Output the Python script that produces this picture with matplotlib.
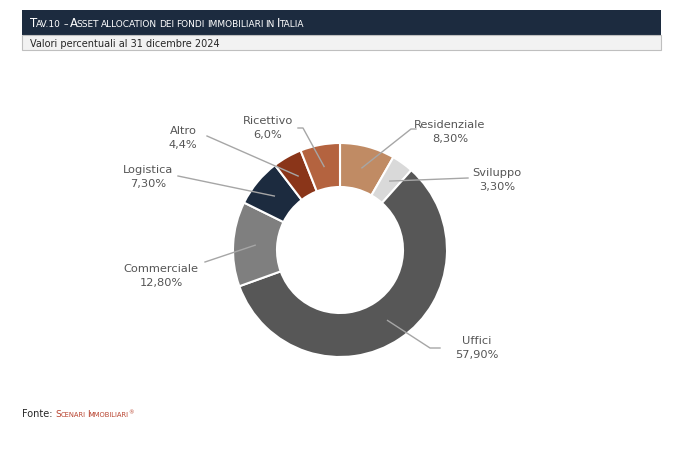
import matplotlib
matplotlib.use("Agg")
import matplotlib.pyplot as plt
from matplotlib.patches import Rectangle
import numpy as np

categories = ["Residenziale", "Sviluppo", "Uffici", "Commerciale", "Logistica", "Altro", "Ricettivo"]
values = [8.3, 3.3, 57.9, 12.8, 7.3, 4.4, 6.0]
value_labels = ["8,30%", "3,30%", "57,90%", "12,80%", "7,30%", "4,4%", "6,0%"]
colors = ["#C08B64", "#D9D9D9", "#575757", "#7F7F7F", "#1C2B3F", "#8A3519", "#B4633F"]

W, H = 696, 454
fig = plt.figure(figsize=(W / 100, H / 100), dpi=100)
ax = fig.add_axes([0, 0, 1, 1])
plt.rcParams['font.family'] = ['DejaVu Sans']

cx, cy, R = 340, H - 250, 107
wedges, _ = ax.pie(values, colors=colors, startangle=90, counterclock=False,
                   center=(cx, cy), radius=R,
                   wedgeprops=dict(width=44, edgecolor="white", linewidth=1.5))
ax.set_xlim(0, W)
ax.set_ylim(0, H)
ax.set_aspect("equal")
ax.axis("off")

# header
ax.add_patch(Rectangle((22, H - 35), 639, 25, facecolor="#1C2B3F", edgecolor="none"))
ax.add_patch(Rectangle((22, H - 50), 639, 15, facecolor="#F2F2F2", edgecolor="#BFBFBF", linewidth=0.8))

fig.canvas.draw()
renderer = fig.canvas.get_renderer()

def runs(x, y, parts, color):
    for txt, size in parts:
        t = ax.text(x, y, txt, fontsize=size, color=color, va="baseline", ha="left")
        bb = t.get_window_extent(renderer)
        x += bb.width - (0 if txt == " " else 0.9)
    return x

def smallcaps(text, big, small):
    parts = []
    for word_i, word in enumerate(text.split(" ")):
        if word_i:
            parts.append((" ", small))
        if word and word[0].isupper():
            parts.append((word[0], big))
            if word[1:]:
                parts.append((word[1:].upper(), small))
        else:
            parts.append((word.upper(), small))
    return parts

runs(30, H - 27, smallcaps("Tav.10 – Asset allocation dei fondi immobiliari in Italia", 8.5, 6.5), "white")
ax.text(30, H - 47, "Valori percentuali al 31 dicembre 2024", fontsize=7, color="#262626",
        va="baseline", ha="left")

x0 = 22
t = ax.text(x0, H - 417, "Fonte: ", fontsize=7, color="#262626", va="baseline")
x0 += t.get_window_extent(renderer).width
xe = runs(x0, H - 417, smallcaps("Scenari Immobiliari", 6.5, 4.9), "#B8432F")
ax.text(xe + 0.5, H - 414, "®", fontsize=4, color="#B8432F", va="baseline")

# labels and leader lines
label_pos = {
    "Residenziale": (450, 132, [(411, 129), (416, 129)]),
    "Sviluppo": (497, 180, [(468, 178)]),
    "Uffici": (477, 348, [(430, 348), (440, 348)]),
    "Commerciale": (161, 276, [(205, 262)]),
    "Logistica": (148, 177, [(178, 176)]),
    "Altro": (183, 138, [(207, 136)]),
    "Ricettivo": (268, 128, [(303, 128), (298, 128)]),
}
line_col = "#A6A6A6"
cum = 0
for cat, v, vl in zip(categories, values, value_labels):
    mid = np.deg2rad(90 - (cum + v / 2) * 3.6)
    cum += v
    sx = cx + 85 * np.cos(mid)
    sy = cy + 85 * np.sin(mid)
    lx, ly, pts = label_pos[cat]
    xs = [sx] + [p[0] for p in pts]
    ys = [sy] + [H - p[1] for p in pts]
    ax.plot(xs, ys, color=line_col, linewidth=1)
    ax.text(lx, H - ly, cat + "\n" + vl, fontsize=8.2, color="#555555", ha="center",
            va="center", linespacing=1.42)

fig.savefig("out.png", dpi=100)
